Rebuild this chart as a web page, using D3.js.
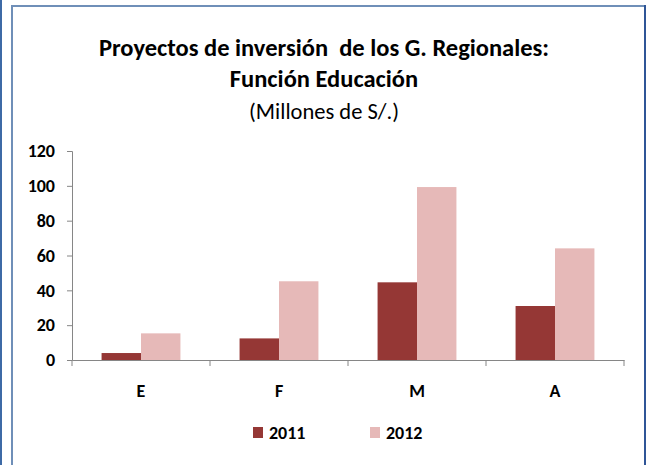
<!DOCTYPE html>
<html>
<head>
<meta charset="utf-8">
<script src="https://cdn.jsdelivr.net/npm/d3@7"></script>
<style>
  body { margin: 0; background: #fff; }
  svg text { font-family: Carlito, "Liberation Sans Narrow", "Open Sans", sans-serif; fill: #000; white-space: pre; }
</style>
</head>
<body>
<div id="chart"></div>
<script>
// chart data
var categories = ['E', 'F', 'M', 'A'];
var seriesNames = ['2011', '2012'];
var values2011 = [4.0, 12.4, 44.6, 31.0];
var values2012 = [15.3, 45.2, 99.3, 64.1];
var yTicks = [0, 20, 40, 60, 80, 100, 120];
var colors = ['#953735', '#E6B9B8'];

var W = 651, H = 465;
var margin = { top: 151, left: 72, right: 27, bottom: 105 };
var plotW = W - margin.left - margin.right;
var plotH = H - margin.top - margin.bottom;

var svg = d3.select('#chart').append('svg')
  .attr('width', W).attr('height', H);

// frame lines
svg.append('rect').attr('x', 0).attr('y', 0).attr('width', 2).attr('height', H).attr('fill', '#3E6AA6');
svg.append('rect').attr('x', 11).attr('y', 5).attr('width', 2).attr('height', H).attr('fill', '#6F8FB8');
svg.append('rect').attr('x', 11).attr('y', 5).attr('width', 635).attr('height', 2).attr('fill', '#6F8FB8');
svg.append('rect').attr('x', 644).attr('y', 5).attr('width', 2).attr('height', H).attr('fill', '#2F5597');

// titles
svg.append('text').attr('x', 324).attr('y', 56).attr('text-anchor', 'middle')
  .style('font-size', '24.5px').style('font-weight', 'bold')
  .text('Proyectos de inversión  de los G. Regionales:');
svg.append('text').attr('x', 324).attr('y', 87).attr('text-anchor', 'middle')
  .style('font-size', '24.5px').style('font-weight', 'bold')
  .text('Función Educación');
svg.append('text').attr('x', 324).attr('y', 119).attr('text-anchor', 'middle')
  .style('font-size', '22.5px')
  .text('(Millones de S/.)');

var g = svg.append('g').attr('transform', 'translate(' + margin.left + ',' + margin.top + ')');

var x = d3.scaleBand().domain(categories).range([0, plotW]);
var x1 = d3.scaleBand().domain(seriesNames).range([0, x.bandwidth()])
  .paddingInner(0).paddingOuter(0.75);
var y = d3.scaleLinear().domain([0, 120]).range([plotH, 0]);

var rows = categories.map(function (c, i) {
  return { cat: c, vals: [values2011[i], values2012[i]] };
});

// bars
var grp = g.selectAll('.cat').data(rows).enter().append('g')
  .attr('transform', function (d) { return 'translate(' + x(d.cat) + ',0)'; });
grp.selectAll('rect').data(function (d) {
  return d.vals.map(function (v, j) { return { s: seriesNames[j], v: v, j: j }; });
}).enter().append('rect')
  .attr('x', function (d) { return x1(d.s); })
  .attr('y', function (d) { return y(d.v); })
  .attr('width', x1.bandwidth())
  .attr('height', function (d) { return plotH - y(d.v); })
  .attr('fill', function (d) { return colors[d.j]; });

// y axis
var yAxis = g.append('g').call(d3.axisLeft(y).tickValues(yTicks).tickSize(5).tickPadding(12));
yAxis.select('.domain').attr('stroke', '#868686');
yAxis.selectAll('.tick line').attr('stroke', '#868686');
yAxis.selectAll('text').style('font-size', '18px').style('font-weight', 'bold');

// x axis
var xAxis = g.append('g').attr('transform', 'translate(0,' + plotH + ')')
  .call(d3.axisBottom(x).tickSize(0).tickPadding(24));
xAxis.select('.domain').attr('stroke', '#868686');
xAxis.selectAll('text').style('font-size', '18px').style('font-weight', 'bold');
// category boundary ticks
var bounds = categories.map(function (c) { return x(c); }).concat([plotW]);
xAxis.selectAll('.bound').data(bounds).enter().append('line')
  .attr('x1', function (d) { return d; }).attr('x2', function (d) { return d; })
  .attr('y1', 0).attr('y2', 6).attr('stroke', '#868686');

// legend
var legX = [253, 370];
var leg = svg.selectAll('.leg').data(seriesNames).enter().append('g')
  .attr('transform', function (d, i) { return 'translate(' + legX[i] + ',427)'; });
leg.append('rect').attr('width', 10).attr('height', 11)
  .attr('fill', function (d, i) { return colors[i]; });
leg.append('text').attr('x', 16).attr('y', 12)
  .style('font-size', '18px').style('font-weight', 'bold')
  .text(function (d) { return d; });
</script>
</body>
</html>
